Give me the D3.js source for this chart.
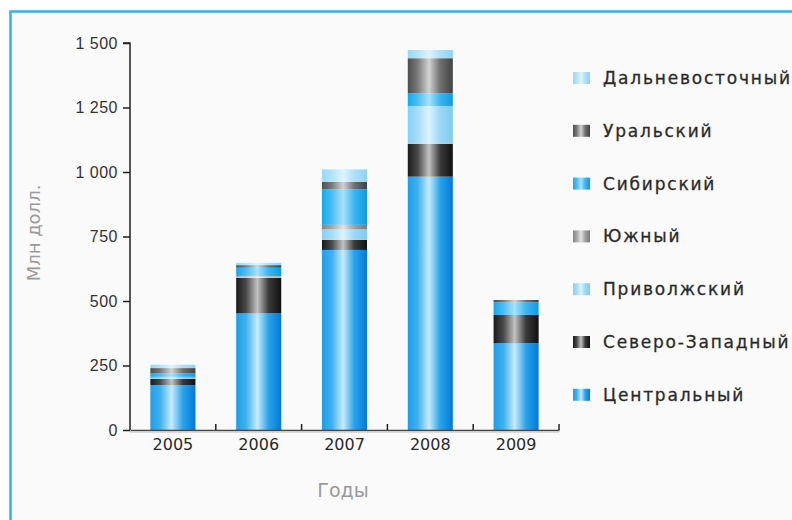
<!DOCTYPE html>
<html>
<head>
<meta charset="utf-8">
<script src="https://cdn.jsdelivr.net/npm/d3@7"></script>
<style>
  html, body { margin: 0; padding: 0; background: #ffffff; }
  svg { display: block; }
</style>
</head>
<body>
<svg id="chart" width="792" height="520"></svg>
<script>
// Years on the x axis
const years = ["2005", "2006", "2007", "2008", "2009"];

// Federal districts, stacked bottom to top
const districts = ["Центральный", "Северо-Западный", "Приволжский", "Южный", "Сибирский", "Уральский", "Дальневосточный"];

// Values per district, million USD, one per year
const central   = [174, 452, 698, 982, 336];
const northWest = [24, 138, 39, 127, 110];
const volga     = [5, 5, 41, 147, 0];
const south     = [3, 2, 17, 0, 0];
const siberia   = [13, 32, 138, 49, 49];
const ural      = [21, 10, 29, 136, 9];
const farEast   = [13, 9, 48, 32, 0];

// Y axis ticks
const yTicks = [0, 250, 500, 750, 1000, 1250, 1500];

// Cylinder-like gradient stops across each bar: edge, shoulder, highlight, shoulder, edge
const shades = {
  "Центральный":     ["#1f9de8", "#3fb0ee", "#c6ebfb", "#2aa2ea", "#0279da"],
  "Северо-Западный": ["#1a1a1a", "#4a4a4a", "#c2c2c2", "#3a3a3a", "#101010"],
  "Приволжский":     ["#86d0f4", "#a6ddf7", "#dcf3fc", "#9ad8f6", "#7ecbf2"],
  "Южный":           ["#858585", "#a8a8a8", "#e2e2e2", "#a0a0a0", "#7a7a7a"],
  "Сибирский":       ["#14a8ee", "#4cbdf2", "#a8e1f9", "#3ab5f0", "#0c9be6"],
  "Уральский":       ["#4e4e4e", "#7a7a7a", "#d2d2d2", "#707070", "#424242"],
  "Дальневосточный": ["#98d8f6", "#b4e3f8", "#def4fc", "#aee0f7", "#8ed2f4"]
};
const offsets = ["0%", "22%", "47%", "72%", "100%"];

const seriesValues = [central, northWest, volga, south, siberia, ural, farEast];
const rows = years.map((y, i) => {
  const r = { year: y };
  districts.forEach((d, k) => { r[d] = seriesValues[k][i]; });
  return r;
});

const svg = d3.select("#chart");

// Panel frame
svg.append("rect").attr("x", 10).attr("y", 11).attr("width", 782).attr("height", 509)
  .attr("fill", "#fafafa");
svg.append("path").attr("d", "M10.5,520 V11.5 H792")
  .attr("fill", "none").attr("stroke", "#3aaeea").attr("stroke-width", 2.5);

const defs = svg.append("defs");
districts.forEach((d, k) => {
  const g = defs.append("linearGradient").attr("id", "grad" + k)
    .attr("x1", "0%").attr("x2", "100%").attr("y1", "0%").attr("y2", "0%");
  shades[d].forEach((c, j) => {
    g.append("stop").attr("offset", offsets[j]).attr("stop-color", c);
  });
});

const x = d3.scaleBand().domain(years).range([130, 559])
  .paddingInner(0.475).paddingOuter(0.2375);
const y = d3.scaleLinear().domain([0, 1500]).range([430, 43]);

const ru = d3.formatLocale({ decimal: ",", thousands: " ", grouping: [3], currency: ["", ""] });
const fmt = ru.format(",d");

const stack = d3.stack().keys(districts)(rows);

// Bars
const layers = svg.append("g").selectAll("g").data(stack).join("g")
  .attr("fill", (d, k) => "url(#grad" + k + ")");
layers.selectAll("rect").data(d => d).join("rect")
  .attr("x", d => x(d.data.year))
  .attr("width", x.bandwidth())
  .attr("y", d => y(d[1]))
  .attr("height", d => Math.max(0, y(d[0]) - y(d[1])));

// Y axis
const yAxis = svg.append("g").attr("transform", "translate(130,0)")
  .call(d3.axisLeft(y).tickValues(yTicks).tickFormat(fmt).tickSize(7).tickPadding(5));
yAxis.select(".domain").attr("stroke", "#222").attr("stroke-width", 1.5)
  .attr("d", "M-7," + y(1500) + "H0V" + y(0));
yAxis.selectAll(".tick line").attr("stroke", "#222").attr("stroke-width", 1.5);
yAxis.selectAll(".tick text")
  .attr("font-family", "'Liberation Sans Narrow', 'Liberation Sans', sans-serif")
  .attr("font-size", 16).attr("fill", "#333").attr("letter-spacing", "0.5px");

// X axis
const xAxis = svg.append("g").attr("transform", "translate(0,430)")
  .call(d3.axisBottom(x).tickSize(0).tickPadding(9));
xAxis.select(".domain").attr("stroke", "#444").attr("stroke-width", 1.5);
xAxis.selectAll(".tick text")
  .attr("font-family", "'DejaVu Sans', sans-serif")
  .attr("font-size", 16).attr("fill", "#2a2a2a");
// Boundary ticks between the year bands
const step = x.step();
const bounds = d3.range(years.length).map(i => x(years[i]) - x.paddingOuter() * step + step);
xAxis.selectAll(".bound").data(bounds).join("line").attr("class", "bound")
  .attr("x1", d => d).attr("x2", d => d).attr("y1", -6).attr("y2", 0)
  .attr("stroke", "#222").attr("stroke-width", 1.5);
// soft shadow under the baseline
svg.append("line").attr("x1", 130).attr("x2", 559).attr("y1", 432).attr("y2", 432)
  .attr("stroke", "#cfcfcf").attr("stroke-width", 1.5);

// Axis titles
svg.append("text").attr("x", 343).attr("y", 497).attr("text-anchor", "middle")
  .attr("font-family", "'DejaVu Sans', sans-serif").attr("font-size", 19)
  .attr("fill", "#9a9a9a").text("Годы");
svg.append("text").attr("transform", "translate(40,233) rotate(-90)")
  .attr("text-anchor", "middle")
  .attr("font-family", "'DejaVu Sans', sans-serif").attr("font-size", 18)
  .attr("fill", "#9a9a9a").text("Млн долл.");

// Legend (top entry is the top of the stack)
const legendOrder = districts.slice().reverse();
const legend = svg.append("g").selectAll("g").data(legendOrder).join("g")
  .attr("transform", (d, i) => "translate(573," + (78 + i * 52.8) + ")");
legend.append("rect").attr("x", 0).attr("y", -6).attr("width", 17).attr("height", 12)
  .attr("fill", d => "url(#grad" + districts.indexOf(d) + ")");
legend.append("text").attr("x", 30).attr("y", 6)
  .attr("font-family", "'DejaVu Sans', sans-serif").attr("font-size", 17)
  .attr("letter-spacing", "1.8px").attr("stroke", "#2a2a2a").attr("stroke-width", 0.3)
  .attr("fill", "#2a2a2a").text(d => d);
</script>
</body>
</html>
